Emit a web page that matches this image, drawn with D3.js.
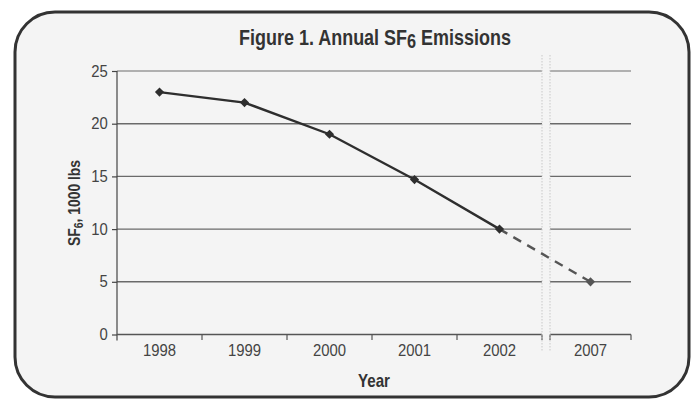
<!DOCTYPE html>
<html>
<head>
<meta charset="utf-8">
<script src="https://cdn.jsdelivr.net/npm/d3@7"></script>
<style>
  html, body { margin: 0; padding: 0; background: #ffffff; }
  svg { display: block; }
  text { font-family: "Liberation Sans", Arial, sans-serif; }
</style>
</head>
<body>
<svg id="chart" width="691" height="400"></svg>
<script>
// ---- data ----
const years = ["1998", "1999", "2000", "2001", "2002"];
const values = [23, 22, 19, 14.7, 10];
const projYears = ["2007"];
const projValues = [5];
const yTicks = [0, 5, 10, 15, 20, 25];

// ---- layout ----
const plotTop = 71, plotBottom = 334.5;
const leftX0 = 117, leftX1 = 542, rightX0 = 550, rightX1 = 631;

const svg = d3.select("#chart");

// frame
svg.append("rect")
  .attr("x", 15).attr("y", 12).attr("width", 674).attr("height", 385)
  .attr("rx", 40).attr("ry", 40)
  .attr("fill", "#f4f4f4").attr("stroke", "#333").attr("stroke-width", 3);

const y = d3.scaleLinear().domain([0, 25]).range([plotBottom, plotTop]);
const xL = d3.scaleBand().domain(years).range([leftX0, leftX1]);
const xR = d3.scaleBand().domain(projYears).range([rightX0, rightX1]);
const xc = d => (years.includes(d) ? xL(d) + xL.bandwidth() / 2 : xR(d) + xR.bandwidth() / 2);

// gridlines
const grid = svg.append("g");
[[leftX0, leftX1], [rightX0, rightX1]].forEach(([a, b]) => {
  grid.selectAll(null).data(yTicks.filter(t => t > 0)).enter().append("line")
    .attr("x1", a).attr("x2", b)
    .attr("y1", d => y(d)).attr("y2", d => y(d))
    .attr("stroke", d => d === 25 ? "#9a9a9a" : "#6a6a6a").attr("stroke-width", 1.4);
});

// y axis
const yAxis = svg.append("g").attr("transform", `translate(${leftX0},0)`)
  .call(d3.axisLeft(y).tickValues(yTicks).tickSize(5).tickPadding(5));
yAxis.select(".domain").remove();
yAxis.selectAll(".tick line").attr("stroke", "#444").attr("stroke-width", 1.2);
yAxis.selectAll(".tick text").attr("fill", "#444").style("font-size", "16px")
  .attr("transform", "scale(0.93,1)");
svg.append("line").attr("x1", leftX0).attr("x2", leftX0)
  .attr("y1", plotTop).attr("y2", plotBottom + 6)
  .attr("stroke", "#444").attr("stroke-width", 1.2);

// x axis segments
[[xL, leftX0, leftX1], [xR, rightX0, rightX1]].forEach(([sc, a, b]) => {
  const g = svg.append("g").attr("transform", `translate(0,${plotBottom})`)
    .call(d3.axisBottom(sc).tickSize(0).tickPadding(10));
  g.select(".domain").remove();
  g.selectAll(".tick text").attr("fill", "#444").style("font-size", "16px")
    .attr("transform", "scale(0.93,1)");
  g.append("line").attr("x1", a).attr("x2", b).attr("stroke", "#555").attr("stroke-width", 1.4);
  const bounds = sc.domain().map(d => sc(d)).concat([sc.range()[1]]).filter(v => v !== leftX0);
  g.selectAll(null).data(bounds).enter().append("line")
    .attr("x1", d => d).attr("x2", d => d).attr("y1", 0).attr("y2", 5.5)
    .attr("stroke", "#555").attr("stroke-width", 1.2);
});

// break markers
[leftX1, rightX0].forEach(bx => {
  svg.append("line").attr("x1", bx).attr("x2", bx).attr("y1", 55).attr("y2", 352)
    .attr("stroke", "#c8c8c8").attr("stroke-width", 1).attr("stroke-dasharray", "1.5,1.5");
});

// lines
const line = d3.line().x(d => xc(d[0])).y(d => y(d[1]));
const solid = years.map((yr, i) => [yr, values[i]]);
svg.append("path").datum(solid).attr("d", line)
  .attr("fill", "none").attr("stroke", "#2e2e2e").attr("stroke-width", 2.4);
const proj = projYears.map((yr, i) => [yr, projValues[i]]);
const dashed = [solid[solid.length - 1]].concat(proj);
svg.append("path").datum(dashed).attr("d", line)
  .attr("fill", "none").attr("stroke", "#555").attr("stroke-width", 2.4)
  .attr("stroke-dasharray", "9,7");

// markers (diamonds = rotated squares)
const diamond = d3.symbol().type(d3.symbolSquare).size(42);
svg.selectAll(null).data(solid).enter().append("path")
  .attr("d", diamond).attr("transform", d => `translate(${xc(d[0])},${y(d[1])}) rotate(45)`)
  .attr("fill", "#2e2e2e");
svg.selectAll(null).data(proj).enter().append("path")
  .attr("d", diamond).attr("transform", d => `translate(${xc(d[0])},${y(d[1])}) rotate(45)`)
  .attr("fill", "#555");

// helper: condense a text horizontally to fit a target width
function fit(sel, cx, cy, target, rot) {
  const w = sel.node().getComputedTextLength();
  const s = target / w;
  sel.attr("transform", `translate(${cx},${cy})${rot ? " rotate(" + rot + ")" : ""} scale(${s},1)`);
}

// title
const title = svg.append("text").attr("text-anchor", "middle")
  .attr("fill", "#333").style("font-size", "22px").style("font-weight", "bold");
title.append("tspan").text("Figure 1. Annual SF");
title.append("tspan").attr("dy", 3).style("font-size", "20px").text("6");
title.append("tspan").attr("dy", -3).text(" Emissions");
fit(title, 375, 45, 272);

// axis titles
const xt = svg.append("text").attr("text-anchor", "middle")
  .attr("fill", "#333").style("font-size", "18px").style("font-weight", "bold").text("Year");
fit(xt, 374, 387, 32);

const yl = svg.append("text").attr("text-anchor", "middle")
  .attr("fill", "#333").style("font-size", "16px").style("font-weight", "bold");
yl.append("tspan").text("SF");
yl.append("tspan").attr("dy", 3).style("font-size", "12px").text("6");
yl.append("tspan").attr("dy", -3).text(", 1000 lbs");
fit(yl, 80, 203, 86, -90);
</script>
</body>
</html>
